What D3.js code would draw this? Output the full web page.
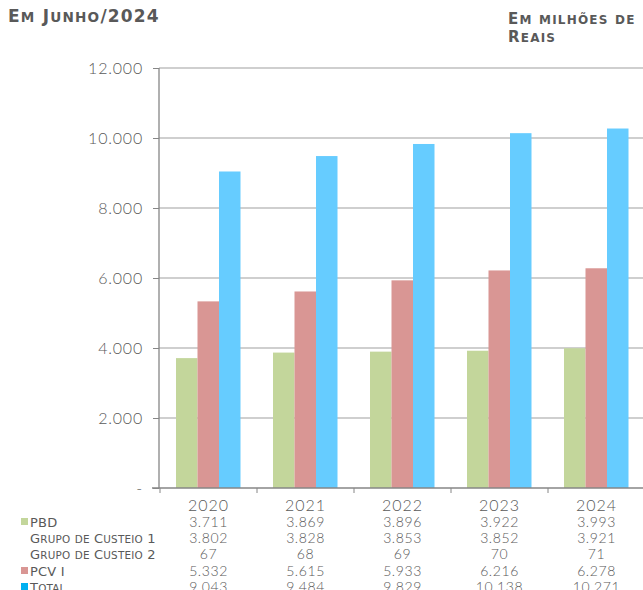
<!DOCTYPE html>
<html><head><meta charset="utf-8">
<script src="https://cdn.jsdelivr.net/npm/d3@7"></script>
<style>
body{margin:0;background:#fff;}
svg{display:block;}
.num{font-family:Lato,"DejaVu Sans",sans-serif;font-weight:300;fill:#595959;}
.sc{font-family:"DejaVu Sans",sans-serif;fill:#595959;}
</style></head>
<body>
<script>
const years = ["2020","2021","2022","2023","2024"];
const rowLabels = ["PBD","Grupo de Custeio 1","Grupo de Custeio 2","PCV I","Total"];
const pbd = [3711,3869,3896,3922,3993];
const custeio1 = [3802,3828,3853,3852,3921];
const custeio2 = [67,68,69,70,71];
const pcv = [5332,5615,5933,6216,6278];
const total = [9043,9484,9829,10138,10271];
const yTicks = [0,2000,4000,6000,8000,10000,12000];

const rows = [pbd,custeio1,custeio2,pcv,total];
const barSeries = [{key:"PBD",vals:pbd,color:"#C3D69B"},{key:"PCV I",vals:pcv,color:"#D99694"},{key:"Total",vals:total,color:"#66CCFF"}];
const rowColors = ["#C3D69B",null,null,"#D99694","#00B0F0"];

const W=643,H=590;
const svg=d3.select("body").append("svg").attr("width",W).attr("height",H);
const fmt = d3.formatLocale({decimal:",",thousands:".",grouping:[3],currency:["",""]}).format(",d");

// emulate a small-caps typeface: uppercase letters full size, lowercase letters as smaller capitals
function smallCaps(sel, str, size, ratio){
  const parts=[]; let cur=null;
  for(const ch of str){
    const small = ch!==ch.toUpperCase();
    if(!cur||cur.small!==small){cur={small,t:""};parts.push(cur);}
    cur.t+=ch;
  }
  sel.selectAll("tspan").data(parts).join("tspan")
    .attr("font-size",d=>d.small?size*ratio:size)
    .text(d=>d.small?d.t.toUpperCase():d.t);
  return sel;
}

const x=d3.scaleBand().domain(years).range([160,645]).paddingInner(0).paddingOuter(0);
const y=d3.scaleLinear().domain([0,12000]).range([488,68]);
const xs=d3.scaleBand().domain(barSeries.map(d=>d.key)).range([16,16+64.5]);

// gridlines
svg.append("g").selectAll("line").data(yTicks.filter(d=>d>0)).join("line")
 .attr("x1",159).attr("x2",W).attr("y1",d=>y(d)).attr("y2",d=>y(d))
 .attr("stroke","#BFBFBF").attr("stroke-width",1.5);

// bars
const g=svg.append("g");
barSeries.forEach(s=>{
  g.selectAll(null).data(years).join("rect")
   .attr("x",(d)=>x(d)+xs(s.key)).attr("width",xs.bandwidth())
   .attr("y",(d,i)=>y(s.vals[i])).attr("height",(d,i)=>y(0)-y(s.vals[i]))
   .attr("fill",s.color);
});

// y axis
const ya=svg.append("g").attr("transform","translate(159,0)")
 .call(d3.axisLeft(y).tickValues(yTicks).tickSize(6).tickPadding(10).tickFormat(d=>d===0?"-":fmt(d)));
ya.select(".domain").attr("stroke","#868686").attr("stroke-width",1.3).attr("d","M0,68V488");
ya.selectAll(".tick line").attr("stroke","#868686");
ya.selectAll(".tick text").attr("class","num").attr("font-size",16).attr("fill","#595959").style("letter-spacing","0.8px");

// x axis
const xa=svg.append("g").attr("transform","translate(0,488)");
xa.append("line").attr("x1",152).attr("x2",W).attr("y1",0).attr("y2",0).attr("stroke","#868686").attr("stroke-width",1.3);
const xEdges = years.map(d=>x(d)).concat([x(years[years.length-1])+x.bandwidth()]);
xa.selectAll("line.t").data(xEdges).join("line").attr("class","t")
 .attr("x1",d=>d).attr("x2",d=>d).attr("y1",0).attr("y2",5).attr("stroke","#868686");

// year labels
svg.append("g").selectAll("text").data(years).join("text").attr("class","num")
 .attr("x",d=>x(d)+x.bandwidth()/2).attr("y",511).attr("text-anchor","middle")
 .attr("font-size",16).style("letter-spacing","1px").text(d=>d);

// table rows
const rowY=[527,543,559,576,592];
rows.forEach((vals,r)=>{
  if(rowColors[r]) svg.append("rect").attr("x",21).attr("y",rowY[r]-9).attr("width",7).attr("height",7).attr("fill",rowColors[r]);
  smallCaps(svg.append("text").attr("class","sc").attr("x",30).attr("y",rowY[r]).style("letter-spacing","0.2px"), rowLabels[r], 13, 0.8);
  svg.append("g").selectAll("text").data(vals).join("text").attr("class","num")
   .attr("x",(d,i)=>x(years[i])+x.bandwidth()/2).attr("y",rowY[r]).attr("text-anchor","middle")
   .attr("font-size",14).style("letter-spacing","0.6px").text(d=>fmt(d));
});

// titles
smallCaps(svg.append("text").attr("class","sc").attr("x",8).attr("y",22).attr("font-weight","bold").style("letter-spacing","1.2px"),"Em Junho/2024",17,0.8);
smallCaps(svg.append("text").attr("class","sc").attr("x",508).attr("y",24).attr("font-weight","bold").style("letter-spacing","1.2px"),"Em milhões de",15,0.8);
smallCaps(svg.append("text").attr("class","sc").attr("x",508).attr("y",42).attr("font-weight","bold").style("letter-spacing","1.2px"),"Reais",15,0.8);
</script>
</body></html>
